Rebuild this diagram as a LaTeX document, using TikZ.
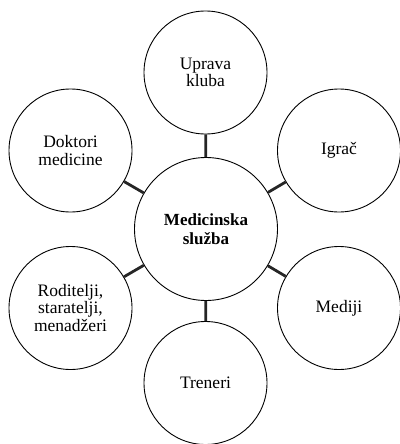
\documentclass[tikz,border=0pt]{standalone}
\usepackage{fontspec}
\setmainfont{Liberation Serif}
\begin{document}
\begin{tikzpicture}[x=1pt,y=-1pt,
  outer/.style={circle,draw=black,line width=0.9pt,minimum size=123pt,inner sep=0pt,align=center,font=\fontsize{17.5}{17.5}\selectfont},
  hub/.style={circle,draw=black,line width=0.9pt,minimum size=143pt,inner sep=0pt,align=center,font=\fontsize{17}{19}\selectfont\bfseries},
  link/.style={line width=2.8pt,draw=black!85}]
\useasboundingbox (0,0) rectangle (399,444);
\node[hub] (c) at (206,229) {Medicinska\\služba};
\node[outer] (u) at (205.5,72.5) {Uprava\\kluba};
\node[outer] (d) at (70.5,150.5) {Doktori\\medicine};
\node[outer] (i) at (339,150.5) {Igrač};
\node[outer] (r) at (70.5,308) {Roditelji,\\staratelji,\\menadžeri};
\node[outer] (m) at (339,308) {Mediji};
\node[outer] (t) at (205.5,383) {Treneri};
\foreach \n in {u,d,i,r,m,t} \draw[link] (c) -- (\n);
\end{tikzpicture}
\end{document}
